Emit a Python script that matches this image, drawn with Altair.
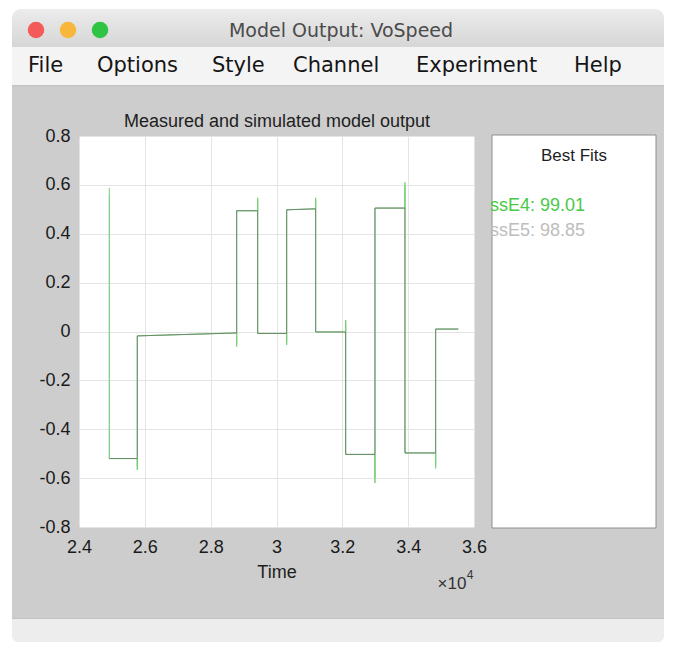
import altair as alt
import pandas as pd

# ---------------- data ----------------
step_times = [24920, 25771, 28790, 29428, 30309, 31190, 32101, 32991, 33903, 34835]
end_time = 35522
level_start = [-0.520, -0.018, 0.494, -0.008, 0.498, -0.002, -0.503, 0.505, -0.497, 0.010]
level_end = [-0.520, -0.006, 0.494, -0.008, 0.502, -0.002, -0.503, 0.505, -0.497, 0.010]
spike_ssE4 = [0.588, -0.567, -0.062, 0.547, -0.055, 0.547, 0.047, -0.620, 0.610, -0.560]
spike_ssE5 = [0.560, -0.555, -0.050, 0.535, -0.045, 0.535, 0.040, -0.600, 0.595, -0.550]

x_ticks = [24000, 26000, 28000, 30000, 32000, 34000, 36000]
y_ticks = [-0.8, -0.6, -0.4, -0.2, 0.0, 0.2, 0.4, 0.6, 0.8]

fit_names = ["ssE4", "ssE5"]
fit_values = [99.01, 98.85]

menu_items = ["File", "Options", "Style", "Channel", "Experiment", "Help"]
window_title = "Model Output: VoSpeed"
plot_title = "Measured and simulated model output"
x_title = "Time"
x_exponent = "4"
panel_title = "Best Fits"

# ---------------- build step series ----------------
def build(spikes):
    ends = step_times[1:] + [end_time]
    rows = []
    prev = None
    for i, t in enumerate(step_times):
        if prev is not None:
            rows.append((t, prev))
        if spikes is not None:
            rows.append((t, spikes[i]))
        rows.append((t, level_start[i]))
        rows.append((ends[i], level_end[i]))
        prev = level_end[i]
    df = pd.DataFrame(rows, columns=["t", "y"])
    df["i"] = range(len(df))
    return df

df_meas = build(None)
df_e4 = build(spike_ssE4)
df_e5 = build(spike_ssE5)

W, H = 395, 391
PL, PT = 71, 128  # plot origin offset inside canvas (page origin 79,136)


def px(x):
    return x - 79


def py(y):
    return y - 136


one = pd.DataFrame({"k": [0]})
FONT = "Liberation Sans"
UI = "DejaVu Sans"

xaxis = alt.Axis(values=x_ticks, labelExpr="format(datum.value/10000,'~g')",
                 grid=True, gridColor="#e4e4e4", ticks=False, tickSize=0, domain=False,
                 labelFont=FONT, labelFontSize=18, labelColor="#1a1a1a",
                 labelPadding=11, labelFlush=False, labelOverlap=False, title=None)
yaxis = alt.Axis(values=y_ticks,
                 labelExpr="datum.value < 0 ? '-' + format(-datum.value,'~g') : format(datum.value,'~g')",
                 grid=True, gridColor="#e4e4e4", ticks=False, tickSize=0, domain=False,
                 labelFont=FONT, labelFontSize=18, labelColor="#1a1a1a",
                 labelPadding=9, labelOverlap=False, title=None)
X = alt.X("t:Q", scale=alt.Scale(domain=[24000, 36000], nice=False, zero=False), axis=xaxis)
Y = alt.Y("y:Q", scale=alt.Scale(domain=[-0.8, 0.8], nice=False, zero=False), axis=yaxis)


def line(df, color, width=1.0, opacity=1.0):
    return alt.Chart(df).mark_line(color=color, strokeWidth=width, opacity=opacity).encode(
        x=X, y=Y, order="i:Q")


def rect(x1, x2, y1, y2, color, **kw):
    return alt.Chart(one).mark_rect(color=color, **kw).encode(
        x=alt.value(px(x1)), x2=alt.value(px(x2)), y=alt.value(py(y1)), y2=alt.value(py(y2)))


def text(s, x, y, size, color, font=FONT, align="center", **kw):
    return alt.Chart(one).mark_text(text=s, font=font, fontSize=size, color=color,
                                    align=align, baseline="middle", **kw).encode(
        x=alt.value(px(x)), y=alt.value(py(y)))


layers = []
# white outside window edges
layers.append(rect(8, 12, 8, 642, "white"))
layers.append(rect(664, 668, 8, 642, "white"))
layers.append(rect(8, 668, 8, 30, "white"))
layers.append(rect(8, 668, 630, 642, "white"))
# title bar
grad = alt.Gradient(gradient="linear", x1=0, x2=0, y1=0, y2=1,
                    stops=[alt.GradientStop(color="#ececec", offset=0),
                           alt.GradientStop(color="#d6d6d6", offset=1)])
layers.append(rect(12, 664, 9, 47, grad, cornerRadiusTopLeft=9, cornerRadiusTopRight=9))
# menu bar
layers.append(rect(12, 664, 47, 85, "#f4f4f4"))
layers.append(rect(12, 664, 85, 86.5, "#c4c4c4"))
# status bar
layers.append(rect(12, 664, 618, 619, "#c2c2c2"))
layers.append(rect(12, 664, 619, 642, "#ededed", cornerRadiusBottomLeft=6, cornerRadiusBottomRight=6))

# traffic lights
for cx, col in [(36, "#f25b57"), (68, "#f6b73c"), (100, "#2fc443")]:
    layers.append(alt.Chart(one).mark_circle(color=col, size=272, opacity=1).encode(
        x=alt.value(px(cx)), y=alt.value(py(30))))

layers.append(text(window_title, 341, 31, 19, "#4b4b4b", font=UI))
menu_x = [28, 97, 212, 293, 416, 574]
for lab, mx in zip(menu_items, menu_x):
    layers.append(text(lab, mx, 66, 21, "#141414", font=UI, align="left"))

# best fits panel
layers.append(rect(492, 656, 135, 528, "white", stroke="#8e8e8e", strokeWidth=1))
layers.append(text(panel_title, 574, 156, 17, "#1e1e1e"))
fit_colors = ["#48c948", "#bdbdbd"]
for k, (nm, val) in enumerate(zip(fit_names, fit_values)):
    layers.append(text(f"{nm}: {val:.2f}", 490, 206 + 25 * k, 18, fit_colors[k], align="left"))

# plot title / axis title / exponent
layers.append(text(plot_title, 277, 122, 18, "#1e1e1e"))
layers.append(text(x_title, 277, 573, 18, "#1e1e1e"))
layers.append(text("\u00d710", 452, 584, 17, "#333333"))
layers.append(text(x_exponent, 470, 575, 12, "#333333"))

# data lines (drawn last, on top)
lines = [line(df_e5, "#c6c6c6"), line(df_e4, "#72d472"), line(df_meas, "#5a5a5a", 1.0, 0.55)]

chart = alt.layer(*layers, *lines).properties(
    width=W, height=H,
    padding={"left": PL, "top": PT, "right": 660 - W - PL, "bottom": 634 - H - PT},
    autosize=alt.AutoSizeParams(type="none"),
).configure(background="#cdcdcd").configure_view(fill="white", stroke="#8c8c8c", strokeWidth=1)

chart.save("out.html", embed_options={"renderer": "svg", "actions": False})
